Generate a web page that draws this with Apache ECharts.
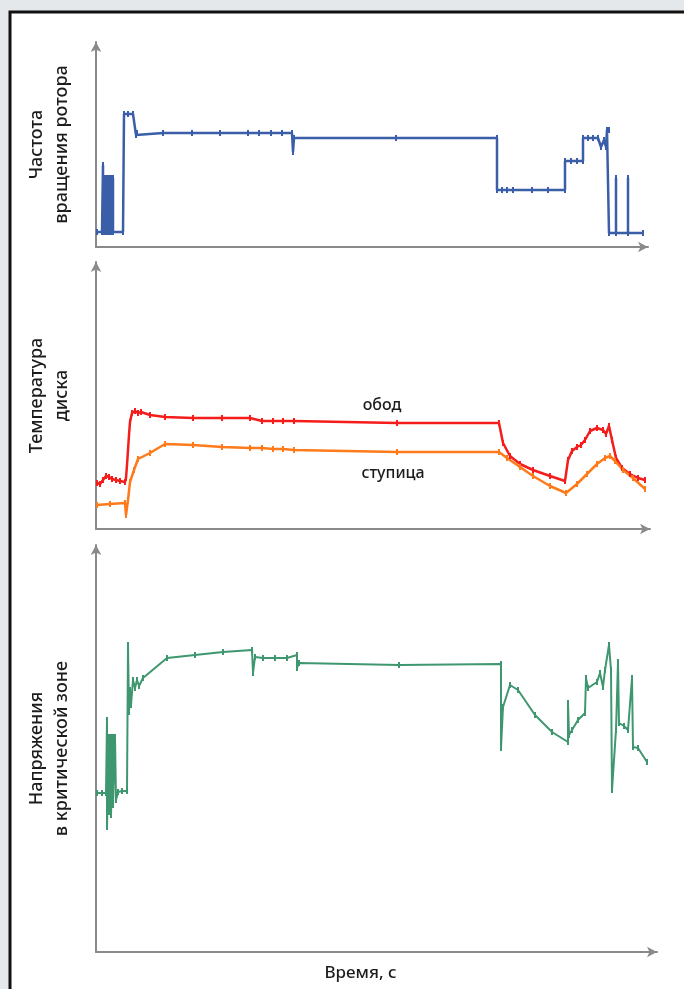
<!DOCTYPE html>
<html>
<head>
<meta charset="utf-8">
<script src="https://cdn.jsdelivr.net/npm/echarts@6/dist/echarts.min.js"></script>
<style>
  html, body { margin: 0; padding: 0; background: #e4e8ea; }
  #chart { width: 684px; height: 989px; }
</style>
</head>
<body>
<div id="chart"></div>
<script>
// Rotor speed (relative units) over time
const rotorTime = [1, 6, 7, 7, 7, 9, 9, 9, 11, 11, 11, 13, 13, 13, 15, 15, 15, 17, 17, 17, 27, 28, 32, 37, 40, 41, 67, 96, 124, 152, 163, 175, 186, 196, 197, 198, 300, 401, 401, 406, 411, 417, 436, 452, 469, 469, 475, 481, 487, 487, 492, 497, 502, 505, 508, 510, 511, 513, 513, 520, 520, 520, 532, 532, 532, 547];
const rotorSpeed = [15, 15, 15, 82, 15, 15, 69, 15, 15, 69, 15, 15, 69, 15, 15, 69, 15, 15, 69, 15, 15, 133, 133, 133, 112, 114, 114, 114, 114, 114, 114, 114, 114, 114, 95, 109, 109, 109, 57, 57, 57, 57, 57, 57, 57, 86, 86, 86, 86, 109, 109, 109, 109, 100, 107, 100, 117, 117, 14, 14, 69, 14, 14, 69, 14, 14];

// Disc temperature: rim and hub
const rimTime = [1, 4, 7, 10, 13, 16, 20, 24, 29, 30, 31, 32, 33, 34, 36, 39, 42, 45, 54, 69, 97, 126, 154, 166, 177, 187, 198, 301, 403, 407, 414, 424, 437, 454, 469, 472, 476, 481, 485, 489, 494, 501, 507, 510, 513, 516, 520, 526, 534, 542, 549];
const rimTemp = [46, 45, 49, 53, 52, 50, 49, 48, 47, 51, 64, 79, 94, 107, 116, 118, 116, 117, 114, 112, 111, 111, 111, 108, 108, 108, 108, 106, 106, 86, 73, 65, 59, 53, 48, 69, 78, 82, 84, 89, 98, 101, 99, 95, 103, 89, 71, 61, 55, 51, 49];
const hubTime = [1, 14, 29, 30, 32, 34, 38, 42, 54, 69, 97, 126, 154, 166, 177, 187, 198, 301, 403, 411, 424, 437, 454, 470, 481, 491, 501, 509, 514, 519, 527, 537, 549];
const hubTemp = [24, 25, 26, 14, 29, 47, 59, 70, 76, 85, 84, 82, 81, 81, 80, 80, 79, 77, 77, 71, 62, 53, 43, 36, 45, 55, 65, 71, 73, 68, 59, 51, 40];

// Stress in the critical zone
const stressTime = [1, 6, 10, 11, 11, 13, 13, 15, 15, 17, 17, 19, 20, 22, 26, 31, 32, 33, 34, 35, 37, 39, 41, 43, 47, 71, 99, 127, 156, 157, 159, 167, 179, 191, 201, 201, 203, 303, 405, 405, 407, 414, 422, 439, 456, 472, 472, 473, 476, 482, 489, 490, 492, 501, 504, 507, 509, 513, 515, 516, 520, 522, 523, 528, 532, 536, 537, 542, 551];
const stressValue = [159, 159, 159, 232, 125, 215, 140, 215, 137, 215, 147, 215, 152, 160, 161, 161, 307, 240, 262, 247, 272, 264, 272, 266, 274, 294, 297, 300, 302, 279, 295, 294, 294, 294, 297, 284, 289, 287, 288, 204, 245, 267, 262, 237, 220, 210, 249, 217, 222, 232, 239, 274, 264, 270, 279, 265, 282, 307, 282, 162, 222, 290, 229, 226, 222, 274, 205, 204, 190];

const zip = (xs, ys) => xs.map((x, i) => [x, ys[i]]);

const FONT = 'Noto Sans';
const TEXT = '#1c1c1c';
const axisColor = '#8a8a8a';

function xAxisDef(gridIndex, max, extra) {
  return Object.assign({
    type: 'value', gridIndex, min: 0, max,
    axisLine: { show: true, onZero: false, symbol: ['none', 'arrow'], symbolSize: [8, 10],
      lineStyle: { color: axisColor, width: 2 } },
    axisTick: { show: false }, axisLabel: { show: false }, splitLine: { show: false }
  }, extra || {});
}
function yAxisDef(gridIndex, max, name) {
  return {
    type: 'value', gridIndex, min: 0, max,
    name, nameLocation: 'middle', nameRotate: 90, nameGap: 22,
    nameTextStyle: { fontFamily: FONT, fontSize: 18, color: TEXT, lineHeight: 25, fontWeight: 500 },
    axisLine: { show: true, onZero: false, symbol: ['none', 'arrow'], symbolSize: [8, 10],
      lineStyle: { color: axisColor, width: 2 } },
    axisTick: { show: false }, axisLabel: { show: false }, splitLine: { show: false }
  };
}
function lineSeries(idx, data, color, width) {
  return {
    type: 'line', xAxisIndex: idx, yAxisIndex: idx, data,
    symbol: 'rect', symbolSize: [2, 6], showSymbol: true,
    itemStyle: { color }, lineStyle: { color, width },
    animation: false, silent: true
  };
}
function textMark(text, coord) {
  return {
    symbol: 'circle', symbolSize: 0, silent: true,
    label: { show: true, formatter: text, fontFamily: FONT, fontSize: 16, fontWeight: 500, color: TEXT },
    data: [{ coord }]
  };
}

const chart = echarts.init(document.getElementById('chart'), null, { renderer: 'canvas' });
chart.setOption({
  backgroundColor: '#e4e8ea',
  animation: false,
  graphic: [{
    type: 'rect', z: -10, silent: true,
    shape: { x: 10, y: 12, width: 720, height: 1000 },
    style: { fill: '#ffffff', stroke: '#111111', lineWidth: 3 }
  }],
  grid: [
    { left: 96, top: 42, width: 552, height: 205 },
    { left: 96, top: 262, width: 554, height: 267 },
    { left: 96, top: 545, width: 561, height: 407 }
  ],
  xAxis: [
    xAxisDef(0, 552),
    xAxisDef(1, 554),
    xAxisDef(2, 561, {
      name: 'Время, с', nameLocation: 'middle', nameGap: 13,
      nameTextStyle: { fontFamily: FONT, fontSize: 17, color: TEXT, fontWeight: 500, padding: [0, 32, 0, 0] }
    })
  ],
  yAxis: [
    yAxisDef(0, 205, 'Частота\nвращения ротора'),
    yAxisDef(1, 267, 'Температура\nдиска'),
    yAxisDef(2, 407, 'Напряжения\nв критической зоне')
  ],
  series: [
    lineSeries(0, zip(rotorTime, rotorSpeed), '#3a5ea8', 2.5),
    Object.assign(lineSeries(1, zip(rimTime, rimTemp), '#f51c1c', 2.5), { markPoint: textMark('обод', [286, 124]) }),
    Object.assign(lineSeries(1, zip(hubTime, hubTemp), '#ff7a1a', 2.5), { markPoint: textMark('ступица', [297, 56]) }),
    lineSeries(2, zip(stressTime, stressValue), '#3f9770', 2)
  ]
});
</script>
</body>
</html>
